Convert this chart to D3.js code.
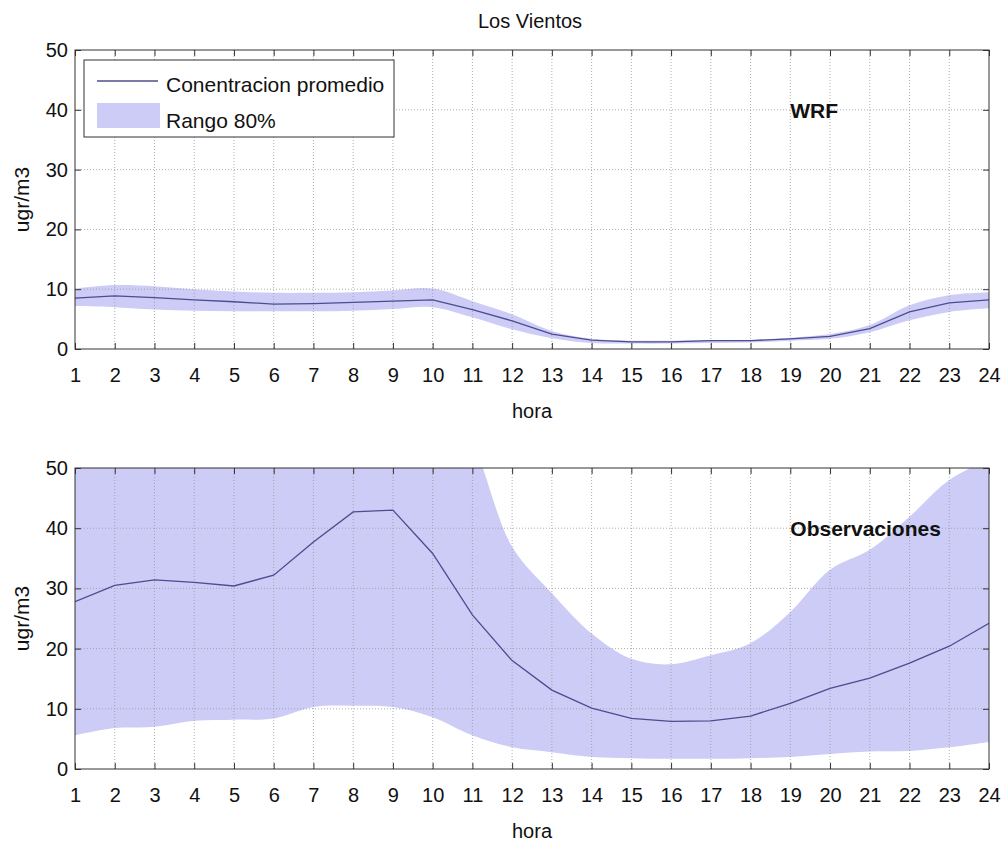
<!DOCTYPE html>
<html><head><meta charset="utf-8">
<script src="https://cdn.jsdelivr.net/npm/d3@7"></script>
<style>body{margin:0;background:#fff}svg{display:block}text{font-family:"Liberation Sans",Arial,sans-serif;fill:#111}</style>
</head><body>
<svg id="c" width="1003" height="841"></svg>
<script>
const hours = d3.range(1, 25);
const yTicks = [0, 10, 20, 30, 40, 50];
const wrfMean = [8.5, 8.9, 8.6, 8.2, 7.9, 7.5, 7.6, 7.8, 8.0, 8.2, 6.6, 4.7, 2.5, 1.5, 1.2, 1.2, 1.4, 1.4, 1.7, 2.1, 3.4, 6.2, 7.7, 8.2];
const wrfHigh = [10.1, 10.7, 10.5, 10.0, 9.6, 9.4, 9.4, 9.5, 9.8, 10.1, 8.0, 5.8, 3.0, 1.7, 1.4, 1.4, 1.5, 1.5, 1.9, 2.5, 4.0, 7.3, 9.0, 9.5];
const wrfLow = [7.2, 7.0, 6.6, 6.4, 6.3, 6.3, 6.3, 6.4, 6.7, 7.0, 5.3, 3.3, 1.8, 1.0, 0.9, 0.9, 1.0, 1.1, 1.4, 1.7, 2.8, 4.8, 6.2, 6.8];
const obsMean = [27.8, 30.5, 31.4, 31.0, 30.4, 32.2, 37.7, 42.7, 43.0, 35.8, 25.6, 18.0, 13.1, 10.1, 8.4, 7.9, 8.0, 8.8, 10.9, 13.4, 15.1, 17.6, 20.4, 24.2];
const obsHigh = [60, 62, 63, 62, 62, 65, 70, 75, 72, 65, 54.3, 36.9, 29.2, 22.5, 18.3, 17.4, 18.9, 20.9, 26.1, 33.1, 36.4, 41.9, 48.0, 51.5];
const obsLow = [5.6, 6.8, 7.0, 8.0, 8.2, 8.4, 10.3, 10.5, 10.3, 8.6, 5.6, 3.6, 2.8, 2.0, 1.8, 1.7, 1.7, 1.8, 2.0, 2.5, 2.9, 3.0, 3.6, 4.5];
const title = "Los Vientos";
const legendLabels = ["Conentracion promedio", "Rango 80%"];

const svg = d3.select("#c");
const L = 75, R = 989;
const FS = 20;
const bandColor = "#ccccf7", lineColor = "#4c4c8e";
const x = d3.scaleLinear().domain([1, 24]).range([L, R]);

function panel(top, bottom, mean, low, high, label, id) {
  const y = d3.scaleLinear().domain([0, 50]).range([bottom, top]);
  const g = svg.append("g");
  g.append("clipPath").attr("id", id).append("rect")
    .attr("x", L).attr("y", top).attr("width", R - L).attr("height", bottom - top);
  const data = hours.map((h, i) => ({h, m: mean[i], lo: low[i], hi: high[i]}));
  g.append("path").datum(data).attr("clip-path", `url(#${id})`)
    .attr("fill", bandColor)
    .attr("d", d3.area().curve(d3.curveCatmullRom.alpha(0.5)).x(d => x(d.h)).y0(d => y(d.lo)).y1(d => y(d.hi)));
  // grid
  g.selectAll(".gx").data(hours.slice(1, -1)).join("line")
    .attr("x1", d => x(d)).attr("x2", d => x(d)).attr("y1", top).attr("y2", bottom)
    .attr("stroke", "#999").attr("stroke-width", 0.8).attr("stroke-dasharray", "1,2");
  g.selectAll(".gy").data(yTicks.slice(1, -1)).join("line")
    .attr("x1", L).attr("x2", R).attr("y1", d => y(d)).attr("y2", d => y(d))
    .attr("stroke", "#999").attr("stroke-width", 0.8).attr("stroke-dasharray", "1,2");
  g.append("path").datum(data).attr("clip-path", `url(#${id})`)
    .attr("fill", "none").attr("stroke", lineColor).attr("stroke-width", 1.3)
    .attr("d", d3.line().x(d => x(d.h)).y(d => y(d.m)));
  // axes with inward ticks
  const ax = d3.axisBottom(x).tickValues(hours).tickSize(-6).tickPadding(19).tickFormat(d3.format("d"));
  const gb = g.append("g").attr("transform", `translate(0,${bottom})`).call(ax);
  g.append("g").attr("transform", `translate(0,${top})`).call(d3.axisTop(x).tickValues(hours).tickSize(-6).tickFormat(""));
  const ay = d3.axisLeft(y).tickValues(yTicks).tickSize(-6).tickPadding(7);
  g.append("g").attr("transform", `translate(${L},0)`).call(ay);
  g.append("g").attr("transform", `translate(${R},0)`).call(d3.axisRight(y).tickValues(yTicks).tickSize(-6).tickFormat(""));
  g.selectAll(".domain").remove();
  g.selectAll(".tick line").attr("stroke", "#333");
  g.selectAll(".tick text").attr("font-size", FS).attr("fill", "#111").attr("font-family", '"Liberation Sans",Arial,sans-serif');
  gb.selectAll(".tick text").attr("dy", "0.71em");
  g.append("rect").attr("x", L).attr("y", top).attr("width", R - L).attr("height", bottom - top)
    .attr("fill", "none").attr("stroke", "#333").attr("stroke-width", 1);
  g.append("text").attr("x", (L + R) / 2).attr("y", bottom + 69).attr("text-anchor", "middle")
    .attr("font-size", FS).text("hora");
  g.append("text").attr("transform", `translate(29,${(top + bottom) / 2}) rotate(-90)`)
    .attr("text-anchor", "middle").attr("font-size", 21).text("ugr/m3");
  g.append("text").attr("x", x(19)).attr("y", y(40)).attr("dy", "0.38em")
    .attr("font-size", 21).attr("font-weight", "bold").text(label);
  return y;
}

panel(50, 349, wrfMean, wrfLow, wrfHigh, "WRF", "c1");
panel(468, 769, obsMean, obsLow, obsHigh, "Observaciones", "c2");

svg.append("text").attr("x", (L + R) / 2 - 2).attr("y", 28).attr("text-anchor", "middle")
  .attr("font-size", 20).text(title);

// legend
const lg = svg.append("g");
lg.append("rect").attr("x", 84).attr("y", 60).attr("width", 310).attr("height", 77)
  .attr("fill", "#fff").attr("stroke", "#333").attr("stroke-width", 1);
lg.append("line").attr("x1", 97).attr("x2", 158).attr("y1", 81).attr("y2", 81)
  .attr("stroke", lineColor).attr("stroke-width", 1.3);
lg.append("rect").attr("x", 97).attr("y", 103).attr("width", 63).attr("height", 25).attr("fill", bandColor);
lg.append("text").attr("x", 166).attr("y", 85).attr("dy", "0.35em").attr("font-size", 21).text(legendLabels[0]);
lg.append("text").attr("x", 166).attr("y", 121).attr("dy", "0.35em").attr("font-size", 21).text(legendLabels[1]);
</script>
</body></html>
